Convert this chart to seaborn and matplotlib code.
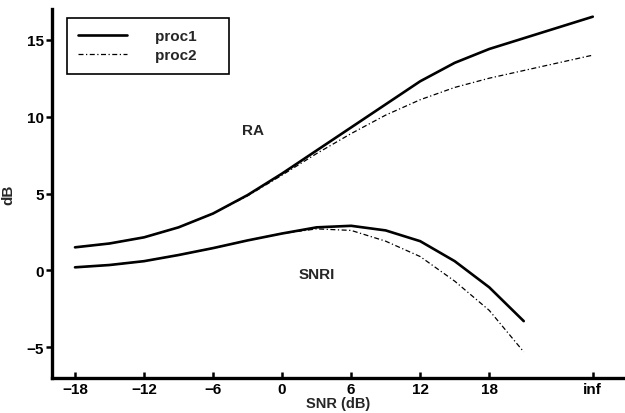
import numpy as np
import pandas as pd
import matplotlib
matplotlib.use("Agg")
import matplotlib.pyplot as plt
import seaborn as sns

# x positions (dB); "inf" is placed at 27
snr = [-18, -15, -12, -9, -6, -3, 0, 3, 6, 9, 12, 15, 18, 21, 27]
snr_short = [-18, -15, -12, -9, -6, -3, 0, 3, 6, 9, 12, 15, 18, 21]
ra_proc1 = [1.5, 1.75, 2.15, 2.8, 3.7, 4.9, 6.3, 7.8, 9.3, 10.8, 12.3, 13.5, 14.4, 15.1, 16.5]
ra_proc2 = [1.5, 1.75, 2.15, 2.8, 3.7, 4.85, 6.2, 7.6, 8.9, 10.1, 11.1, 11.9, 12.5, 13.0, 14.0]
snri_proc1 = [0.2, 0.35, 0.6, 1.0, 1.45, 1.95, 2.4, 2.8, 2.9, 2.6, 1.9, 0.6, -1.1, -3.3]
snri_proc2 = [0.2, 0.35, 0.6, 1.0, 1.45, 1.95, 2.4, 2.7, 2.6, 1.9, 0.9, -0.7, -2.6, -5.3]
tick_pos = [-18, -12, -6, 0, 6, 12, 18, 27]
tick_labels = ["\u221218", "\u221212", "\u22126", "0", "6", "12", "18", "inf"]
ytick_pos = [-5, 0, 5, 10, 15]
ytick_labels = ["\u22125", "0", "5", "10", "15"]

sns.set_style("ticks")
plt.rcParams['font.family'] = ['Liberation Sans', 'DejaVu Sans']
plt.rcParams['font.weight'] = 'bold'

FS = 11
fig = plt.figure(figsize=(6.25, 4.14), dpi=100)
ax = fig.add_axes([0.0832, 0.0845, 0.9168, 0.8913])

dash = (0, (4, 2, 1, 2))
sns.lineplot(x=snr, y=ra_proc1, ax=ax, color="black", lw=1.9, label="proc1     ")
sns.lineplot(x=snr, y=ra_proc2, ax=ax, color="black", lw=0.9, linestyle=dash, label="proc2     ")
sns.lineplot(x=snr_short, y=snri_proc1, ax=ax, color="black", lw=1.9)
sns.lineplot(x=snr_short, y=snri_proc2, ax=ax, color="black", lw=0.9, linestyle=dash)

ax.set_xlim(-20, 29.8)
ax.set_ylim(-7, 17)
ax.set_xticks(tick_pos)
ax.set_xticklabels(tick_labels, fontweight="bold")
ax.set_yticks(ytick_pos)
ax.set_yticklabels(ytick_labels, fontweight="bold")
ax.tick_params(axis="x", direction="in", length=4, width=1.8, labelsize=FS, colors="black", pad=3)
ax.tick_params(axis="y", direction="out", length=4, width=1.8, labelsize=FS, colors="black", pad=2)
for s in ["top", "right"]:
    ax.spines[s].set_visible(False)
for s in ["left", "bottom"]:
    ax.spines[s].set_linewidth(2.4)
    ax.spines[s].set_color("black")

ax.set_xlabel("SNR (dB)", fontsize=10.5, fontweight="bold", labelpad=0)
ax.set_ylabel("dB", fontsize=FS, fontweight="bold", labelpad=8)

ax.text(-2.5, 9.1, "RA", fontsize=FS, fontweight="bold", ha="center", va="center")
ax.text(3.0, -0.25, "SNRI", fontsize=FS, fontweight="bold", ha="center", va="center")

leg = ax.legend(loc="upper left", bbox_to_anchor=(0.0262, 0.9756),
                prop={"size": FS, "weight": "bold"},
                frameon=True, fancybox=False, framealpha=1, edgecolor="black",
                handlelength=3.2, handletextpad=1.8, borderpad=0.75, labelspacing=0.3,
                borderaxespad=0)
leg.get_frame().set_linewidth(1.2)

fig.savefig("out.png", dpi=100)
